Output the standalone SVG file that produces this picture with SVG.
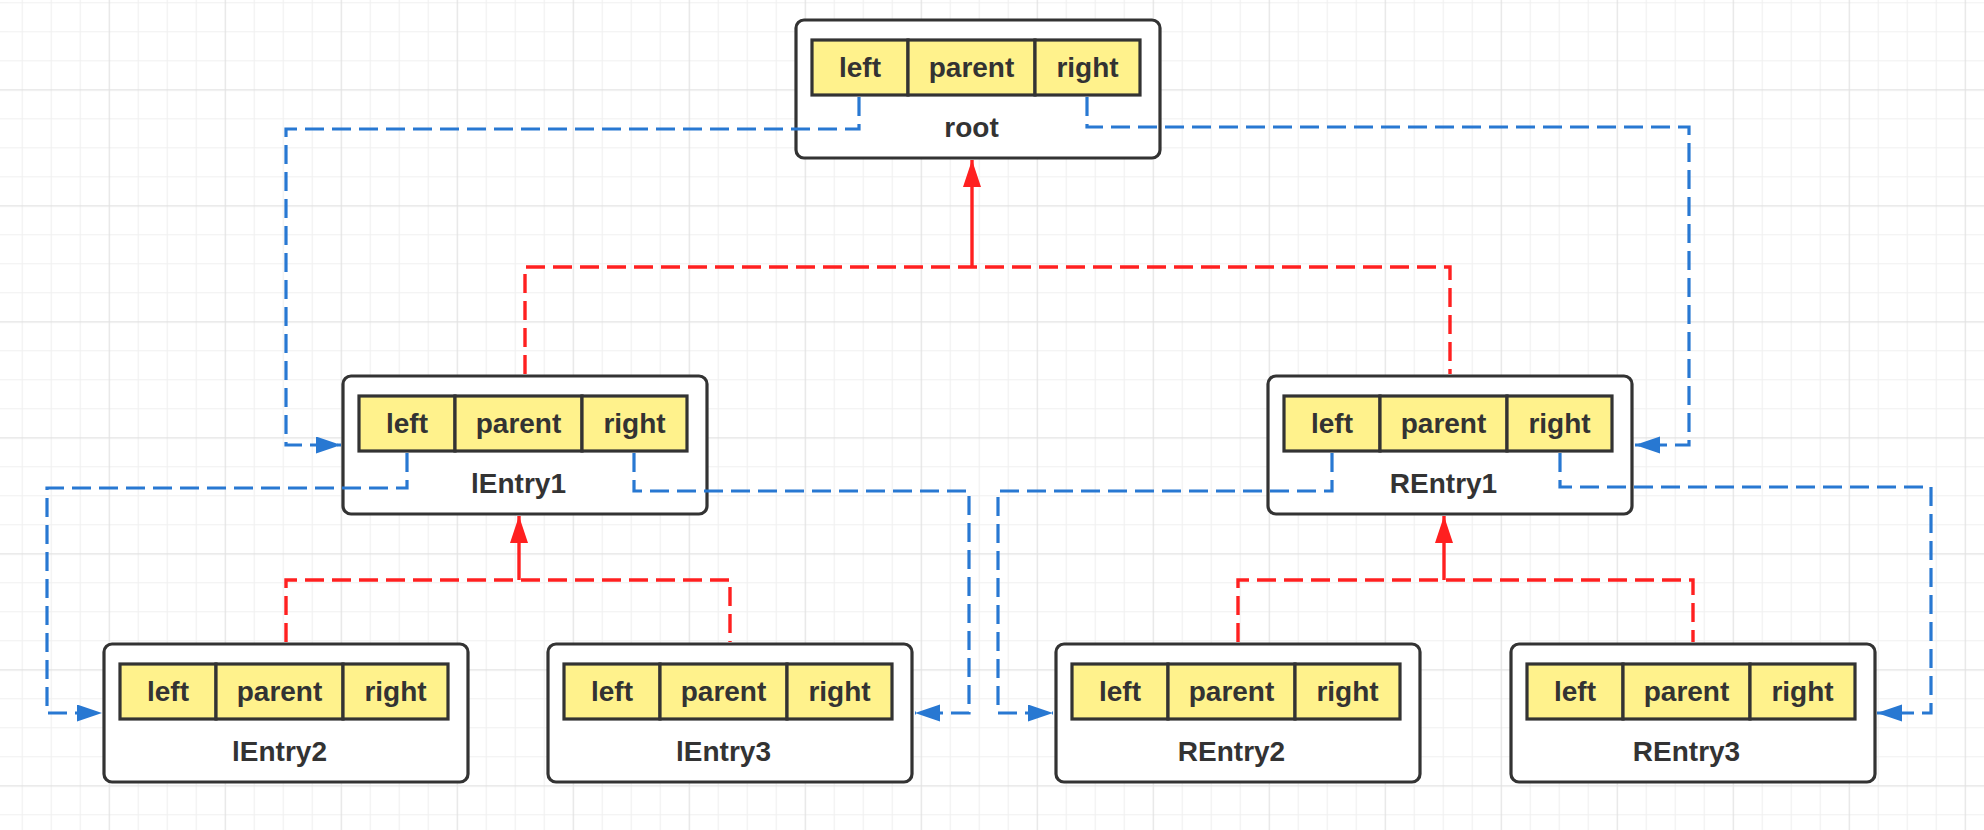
<svg xmlns="http://www.w3.org/2000/svg" width="1984" height="830" viewBox="0 0 1984 830">
<style>
.box{fill:#ffffff;stroke:#333333;stroke-width:3.2}
.fld{fill:#fff28c;stroke:#333333;stroke-width:3.2}
.t{font-family:"Liberation Sans",Arial,sans-serif;font-weight:bold;font-size:28px;fill:#333333;text-anchor:middle}
.blue{fill:none;stroke:#2878d2;stroke-width:3.2;stroke-dasharray:19 8}
.red{fill:none;stroke:#ff2020;stroke-width:3.4;stroke-dasharray:19 8}
.reds{fill:none;stroke:#ff2020;stroke-width:3.4}
</style>
<defs>
<pattern id="grid" patternUnits="userSpaceOnUse" x="-7.3" y="-26.7" width="116" height="116">
<path d="M29.5,0V116M58.5,0V116M87.5,0V116M0,29.5H116M0,58.5H116M0,87.5H116" stroke="#f0f0f0" stroke-width="1.2" fill="none"/>
<path d="M0.5,0V116M0,0.5H116" stroke="#e2e2e2" stroke-width="1.4" fill="none"/>
</pattern>
<marker id="ab" markerUnits="userSpaceOnUse" markerWidth="26" markerHeight="18" refX="25" refY="8.5" orient="auto">
<path d="M0,0L25,8.5L0,17z" fill="#2878d2"/>
</marker>
<marker id="ar" markerUnits="userSpaceOnUse" markerWidth="28" markerHeight="20" refX="27" refY="9" orient="auto">
<path d="M0,0L27,9L0,18z" fill="#ff2020"/>
</marker>
<g id="entry">
<rect class="box" x="0" y="0" width="364" height="138" rx="8" ry="8"/>
<rect class="fld" x="16" y="20" width="96" height="55"/>
<rect class="fld" x="112" y="20" width="127" height="55"/>
<rect class="fld" x="239" y="20" width="105" height="55"/>
<text class="t" x="64" y="57">left</text>
<text class="t" x="175.5" y="57">parent</text>
<text class="t" x="291.5" y="57">right</text>
</g>
</defs>
<rect x="0" y="0" width="1984" height="830" fill="#ffffff"/>
<rect x="0" y="0" width="1984" height="830" fill="url(#grid)"/>

<g id="root" transform="translate(796,20)">
<use href="#entry"/>
<text class="t" x="175.5" y="117">root</text>
</g>
<g id="lEntry1" transform="translate(343,376)">
<use href="#entry"/>
<text class="t" x="175.5" y="117">lEntry1</text>
</g>
<g id="REntry1" transform="translate(1268,376)">
<use href="#entry"/>
<text class="t" x="175.5" y="117">REntry1</text>
</g>
<g id="lEntry2" transform="translate(104,644)">
<use href="#entry"/>
<text class="t" x="175.5" y="117">lEntry2</text>
</g>
<g id="lEntry3" transform="translate(548,644)">
<use href="#entry"/>
<text class="t" x="175.5" y="117">lEntry3</text>
</g>
<g id="REntry2" transform="translate(1056,644)">
<use href="#entry"/>
<text class="t" x="175.5" y="117">REntry2</text>
</g>
<g id="REntry3" transform="translate(1511,644)">
<use href="#entry"/>
<text class="t" x="175.5" y="117">REntry3</text>
</g>

<g id="connectors">
<path class="red" d="M525,374V267H1450V374"/>
<path class="reds" d="M972,267V160" marker-end="url(#ar)"/>
<path class="red" d="M286,642V580H730V642"/>
<path class="reds" d="M519,580V516" marker-end="url(#ar)"/>
<path class="red" d="M1238,642V580H1693V642"/>
<path class="reds" d="M1444,580V516" marker-end="url(#ar)"/>
<path class="blue" d="M859,97V129H286V445H341" marker-end="url(#ab)"/>
<path class="blue" d="M1087,97V127H1689V445H1635" marker-end="url(#ab)"/>
<path class="blue" d="M407,453V488H47V713H102" marker-end="url(#ab)"/>
<path class="blue" d="M634,453V491H969V713H915" marker-end="url(#ab)"/>
<path class="blue" d="M1332,453V491H998V713H1053" marker-end="url(#ab)"/>
<path class="blue" d="M1560,453V487H1931V713H1877" marker-end="url(#ab)"/>
</g>
</svg>
